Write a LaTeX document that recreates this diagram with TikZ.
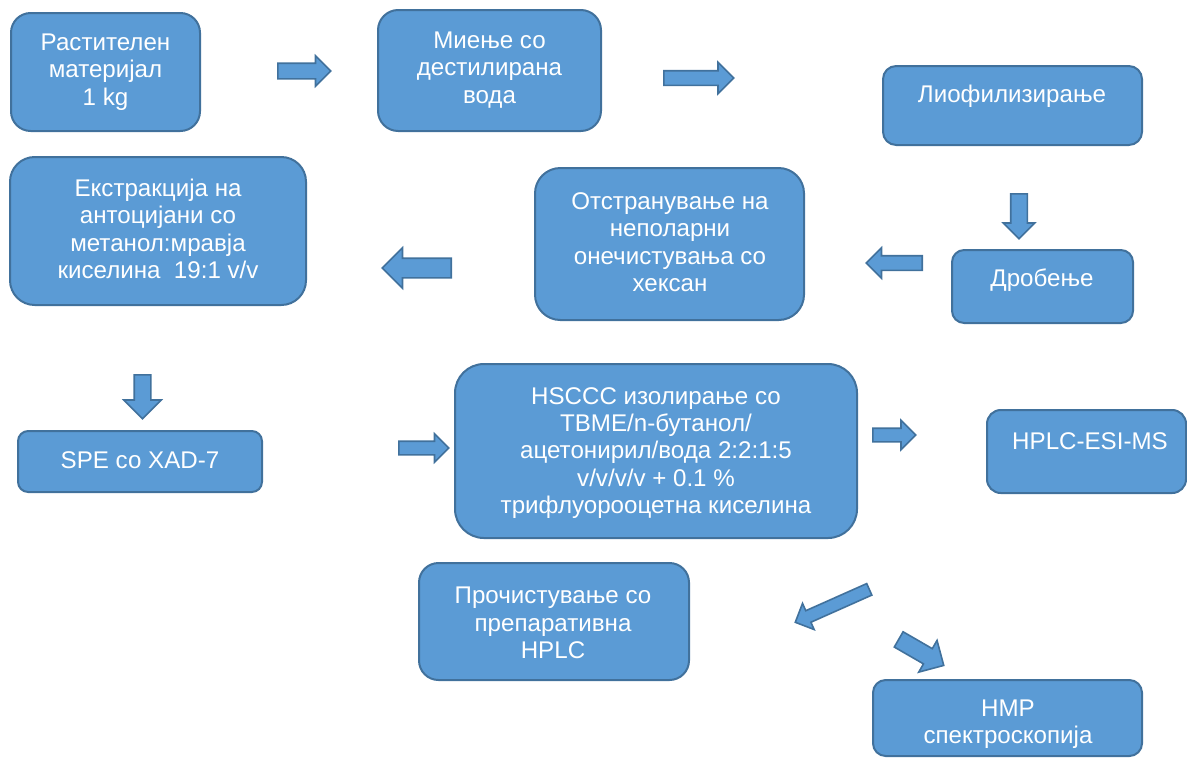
\documentclass[tikz,border=0pt]{standalone}
\usepackage{fontspec}
\setmainfont{Liberation Sans}
\usetikzlibrary{shapes.arrows}

\definecolor{boxfill}{RGB}{91,155,213}
\definecolor{boxline}{RGB}{65,113,156}

\tikzset{
  stepbox/.style n args={3}{draw=boxline, fill=boxfill, line width=1.5pt, inner sep=0pt,
    minimum width=#1*0.75pt, minimum height=#2*0.75pt, rounded corners=#3*0.125pt},
  steptext/.style={text=white, align=center, inner sep=0.75pt,
    font=\fontsize{18.1}{20.6}\selectfont},
  blockarr/.style n args={3}{single arrow, draw=boxline, fill=boxfill, line width=1.2pt,
    anchor=tail, inner xsep=0pt, minimum width=0pt, minimum height=#1*0.75pt,
    inner ysep=#2*0.375pt, single arrow head extend=(#3-#2)*0.375pt}
}

\begin{document}
\begin{tikzpicture}[x=0.75pt,y=0.75pt,yscale=-1,xscale=1]
\useasboundingbox (0,0) rectangle (1187,758);

%Shape: Rounded Rect [id:raw]
\node[stepbox={189}{118}{118}] (raw) at (105.5,72) {};
%Shape: Rounded Rect [id:wash]
\node[stepbox={223}{121}{121}] (wash) at (489.5,70.5) {};
%Shape: Rounded Rect [id:lyo]
\node[stepbox={259}{79}{79}] (lyo) at (1012.5,105.5) {};
%Shape: Rounded Rect [id:grind]
\node[stepbox={181}{73}{73}] (grind) at (1042.5,286.5) {};
%Shape: Rounded Rect [id:hexane]
\node[stepbox={269}{152}{152}] (hexane) at (669.5,244) {};
%Shape: Rounded Rect [id:extr]
\node[stepbox={296}{148}{148}] (extr) at (158,231) {};
%Shape: Rounded Rect [id:spe]
\node[stepbox={244}{61}{61}] (spe) at (140,461.5) {};
%Shape: Rounded Rect [id:hsccc]
\node[stepbox={402}{174}{174}] (hsccc) at (656,451) {};
%Shape: Rounded Rect [id:esims]
\node[stepbox={199}{83}{83}] (esims) at (1086.5,451.5) {};
%Shape: Rounded Rect [id:prep]
\node[stepbox={270}{117}{117}] (prep) at (554,621.5) {};
%Shape: Rounded Rect [id:nmr]
\node[stepbox={269}{76}{76}] (nmr) at (1007.5,718) {};

%Shape: Right Arrow [id:arrA]
\node[blockarr={53}{14}{29}] (arrA) at (277,71) {};
%Shape: Right Arrow [id:arrB]
\node[blockarr={70}{13}{30}] (arrB) at (663,78) {};
%Shape: Down Arrow [id:arrC]
\node[blockarr={45}{15}{30}, rotate=-90] (arrC) at (1019,193) {};
%Shape: Left Arrow [id:arrD]
\node[blockarr={56}{13}{29}, rotate=180] (arrD) at (923,263) {};
%Shape: Left Arrow [id:arrE]
\node[blockarr={69}{18}{39}, rotate=180] (arrE) at (452,268) {};
%Shape: Down Arrow [id:arrF]
\node[blockarr={44}{15}{36}, rotate=-90] (arrF) at (142.5,374) {};
%Shape: Right Arrow [id:arrG]
\node[blockarr={50}{12}{27}] (arrG) at (398,448) {};
%Shape: Right Arrow [id:arrH]
\node[blockarr={43}{12}{28}] (arrH) at (872,435) {};
%Shape: Right Arrow [id:arrI]
\node[blockarr={81}{11}{27}, rotate=204] (arrI) at (870,589) {};
%Shape: Right Arrow [id:arrJ]
\node[blockarr={52}{16}{35}, rotate=-30] (arrJ) at (898,639) {};

% Text Node
\node[steptext] (rawTxt) at (105.5,72) {Растителен\\материјал\\1 kg};
% Text Node
\node[steptext] (washTxt) at (489.5,70) {Миење со\\дестилирана\\вода};
% Text Node
\node[steptext] (lyoTxt) at (1012,96) {Лиофилизирање};
% Text Node
\node[steptext] (grindTxt) at (1042,280) {Дробење};
% Text Node
\node[steptext] (hexaneTxt) at (670,242) {Отстранување на\\неполарни\\онечистувања со\\хексан};
% Text Node
\node[steptext] (extrTxt) at (158,229) {Екстракција на\\антоцијани со\\метанол:мравја\\киселина\ \ 19:1 v/v};
% Text Node
\node[steptext] (speTxt) at (140,460) {SPE со XAD-7};
% Text Node
\node[steptext] (hscccTxt) at (656,453) {HSCCC изолирање со\\TBME/n-бутанол/\\ацетонирил/вода 2:2:1:5\\v/v/v/v + 0.1 \%\\трифлуорооцетна киселина};
% Text Node
\node[steptext] (esimsTxt) at (1090,441) {HPLC-ESI-MS};
% Text Node
\node[steptext] (prepTxt) at (553,623) {Прочистување со\\препаративна\\HPLC};
% Text Node
\node[steptext] (nmrTxt) at (1008,724) {НМР\\спектроскопија};

\end{tikzpicture}
\end{document}
